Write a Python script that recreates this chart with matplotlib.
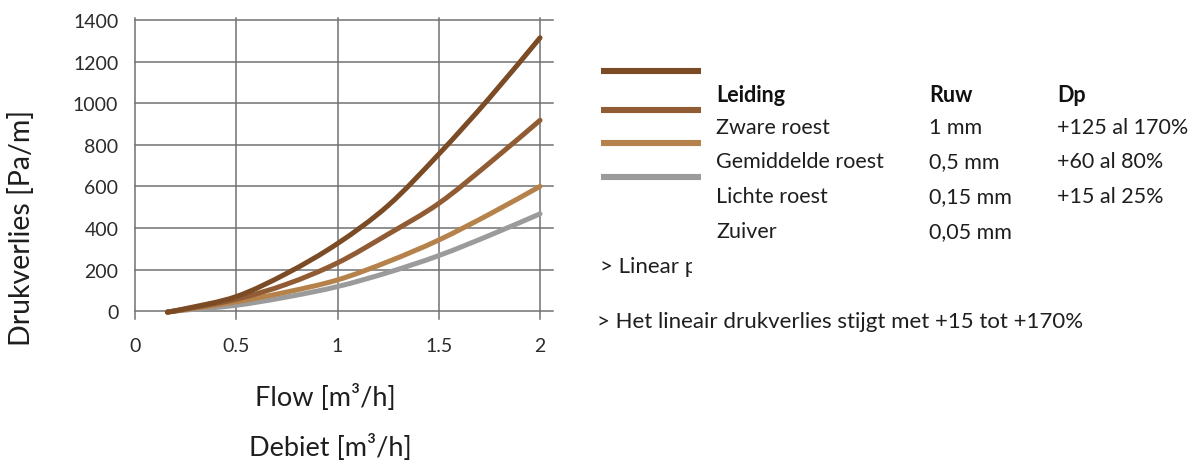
import matplotlib
matplotlib.use("Agg")
import matplotlib.pyplot as plt
from matplotlib.lines import Line2D
from matplotlib.path import Path
from matplotlib.patches import PathPatch
from matplotlib.transforms import Bbox

plt.rcParams['font.family'] = ['Lato', 'DejaVu Sans']

# Flow (m3/h) and pressure loss (Pa/m) per pipe condition
flow = [0.16, 0.25, 0.5, 0.75, 1.0, 1.25, 1.5, 1.75, 2.0]
zware_roest = [-5, 12, 70, 182, 325, 508, 755, 1025, 1315]
gemiddelde_roest = [-5, 10, 57, 130, 232, 370, 518, 712, 918]
lichte_roest = [-5, 8, 45, 92, 150, 238, 342, 466, 600]
zuiver = [-3, 5, 28, 68, 118, 186, 267, 364, 468]

series_colors = ['#7a4b24', '#915c34', '#b5824b', '#9b9b9b']

x_ticks = [0, 0.5, 1, 1.5, 2]
x_tick_labels = ['0', '0.5', '1', '1.5', '2']
y_ticks = [0, 200, 400, 600, 800, 1000, 1200, 1400]

table_header = ['Leiding', 'Ruw', 'Dp']
pipe_names = ['Zware roest', 'Gemiddelde roest', 'Lichte roest', 'Zuiver']
roughness = ['1 mm', '0,5 mm', '0,15 mm', '0,05 mm']
dp_increase = ['+125 al 170%', '+60 al 80%', '+15 al 25%', '']

W, H = 1194, 464
fig = plt.figure(figsize=(W / 100, H / 100), dpi=100)


def px(x, y):
    return x / W, 1 - y / H


def smooth_path(xs, ys):
    """Cubic Bezier path through the points (Catmull-Rom tangents)."""
    pts = list(zip(xs, ys))
    n = len(pts)
    verts = [pts[0]]
    codes = [Path.MOVETO]
    for i in range(n - 1):
        p0 = pts[max(i - 1, 0)]
        p1 = pts[i]
        p2 = pts[i + 1]
        p3 = pts[min(i + 2, n - 1)]
        c1 = (p1[0] + (p2[0] - p0[0]) / 6, p1[1] + (p2[1] - p0[1]) / 6)
        c2 = (p2[0] - (p3[0] - p1[0]) / 6, p2[1] - (p3[1] - p1[1]) / 6)
        verts += [c1, c2, p2]
        codes += [Path.CURVE4] * 3
    return Path(verts, codes)


ax = fig.add_axes([135 / W, 1 - 320 / H, (553 - 135) / W, (320 - 19) / H])
ax.set_xlim(0, 2.064)
ax.set_ylim(-38, 1410)
for s in ax.spines.values():
    s.set_visible(False)
ax.set_xticks(x_ticks)
ax.set_xticklabels(x_tick_labels)
ax.set_yticks(y_ticks)
ax.tick_params(length=0, labelsize=14, colors='#2b2b2b')
ax.tick_params(axis='y', pad=12)
ax.tick_params(axis='x', pad=13)
ax.grid(True, color='#727272', linewidth=1.1)
for gl in ax.get_xgridlines() + ax.get_ygridlines():
    gl.set_clip_on(False)
ax.set_axisbelow(True)

series = [zware_roest, gemiddelde_roest, lichte_roest, zuiver]
for ys, c in zip(series[::-1], series_colors[::-1]):
    ax.add_patch(PathPatch(smooth_path(flow, ys), fill=False, edgecolor=c,
                           linewidth=3.6, capstyle='round', joinstyle='round',
                           transform=ax.transData, clip_on=False))

fig.text(*px(22, 228), 'Drukverlies [Pa/m]', rotation=90, ha='center',
         va='center', fontsize=20.5, color='#1e1e1e')
fig.text(*px(325, 398), 'Flow [m³/h]', ha='center', va='center',
         fontsize=19.5, color='#1e1e1e')
fig.text(*px(330, 448), 'Debiet [m³/h]', ha='center', va='center',
         fontsize=19.5, color='#1e1e1e')

# legend swatches
for yy, c in zip([72, 111, 144, 178], series_colors):
    x0, y0 = px(601, yy)
    x1, _ = px(701, yy)
    fig.add_artist(Line2D([x0, x1], [y0, y0], color=c, linewidth=4.4,
                          solid_capstyle='butt', transform=fig.transFigure))

col_x = [716, 929, 1057]
for cx, head in zip(col_x, table_header):
    fig.text(*px(cx, 95), head, ha='left', va='center', fontsize=15.5,
             fontweight='bold', color='#111111')
for i, ry in enumerate([128, 162, 197, 232]):
    for cx, val in zip(col_x, [pipe_names[i], roughness[i], dp_increase[i]]):
        fig.text(*px(cx, ry), val, ha='left', va='center', fontsize=15.5,
                 color='#1e1e1e')

t = fig.text(*px(600, 267), '> Linear p', ha='left', va='center',
             fontsize=16, color='#1e1e1e')
t.set_clip_box(Bbox.from_extents(590, 0, 692, H))
t.set_clip_on(True)
fig.text(*px(597, 322), '> Het lineair drukverlies stijgt met +15 tot +170%',
         ha='left', va='center', fontsize=16, color='#1e1e1e')

fig.savefig('out.png', dpi=100)
